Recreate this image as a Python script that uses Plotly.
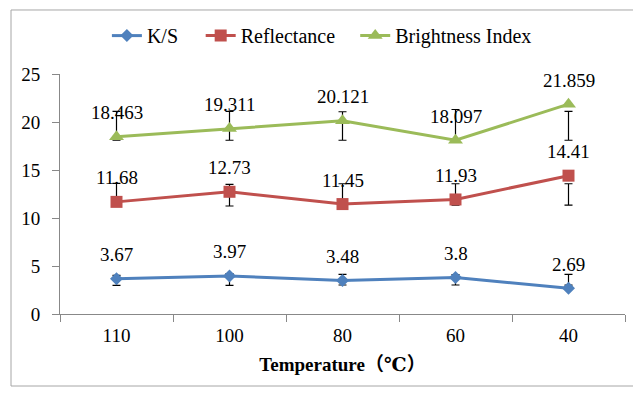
import plotly.graph_objects as go

categories = ["110", "100", "80", "60", "40"]
ks = [3.67, 3.97, 3.48, 3.8, 2.69]
reflectance = [11.68, 12.73, 11.45, 11.93, 14.41]
brightness = [18.463, 19.311, 20.121, 18.097, 21.859]

# error bar ends (low, high)
ks_low = [2.98, 2.98, 3.02, 3.02, 3.0]
ks_high = [4.03, 4.2, 4.13, 4.1, 4.13]
ref_low = [11.35, 11.25, 11.35, 11.35, 11.35]
ref_high = [13.6, 13.5, 13.57, 13.57, 13.57]
bri_low = [18.1, 18.1, 18.1, 18.0, 18.1]
bri_high = [21.1, 21.1, 21.07, 21.3, 21.1]

series = [
    ("K/S", ks, ks_low, ks_high, "#4F81BD", "diamond", 10, "legend", 0.083),
    ("Reflectance", reflectance, ref_low, ref_high, "#C0504D", "square", 12, "legend2", 0.249),
    ("Brightness Index", brightness, bri_low, bri_high, "#9BBB59", "triangle-up", 13, "legend3", 0.5225),
]

FONT = "'Times New Roman', 'Liberation Serif', 'DejaVu Serif', serif"

fig = go.Figure()

# error bars first (drawn beneath the lines/markers)
for name, vals, lo, hi, color, sym, size, lg, lx in series:
    mid = [(a + b) / 2 for a, b in zip(lo, hi)]
    half = [(b - a) / 2 for a, b in zip(lo, hi)]
    fig.add_trace(go.Scatter(
        x=categories, y=mid, mode="markers",
        marker=dict(size=1, opacity=0),
        error_y=dict(type="data", array=half, symmetric=True,
                     color="black", thickness=1.2, width=4),
        showlegend=False, hoverinfo="skip",
    ))

legends = {}
for name, vals, lo, hi, color, sym, size, lg, lx in series:
    fig.add_trace(go.Scatter(
        x=categories, y=vals, mode="lines+markers", name=name, legend=lg,
        line=dict(color=color, width=3),
        marker=dict(symbol=sym, size=size, color=color),
    ))
    legends[lg] = dict(orientation="h", x=lx, y=1.16, xanchor="left",
                       yanchor="middle", font=dict(family=FONT, size=20),
                       itemwidth=30, bgcolor="rgba(0,0,0,0)")
    for i, v in enumerate(vals):
        fig.add_annotation(
            x=i, y=v, text=str(v), showarrow=False, yshift=24,
            font=dict(family=FONT, size=19, color="black"),
        )

# outer border
fig.add_shape(type="rect", xref="paper", yref="paper",
              x0=-0.0867, x1=1.2, y0=-0.3, y1=1.2667,
              line=dict(color="#A6A6A6", width=1))

fig.update_layout(
    width=633, height=397,
    margin=dict(l=60, r=8, t=74, b=83, autoexpand=False),
    paper_bgcolor="white", plot_bgcolor="white",
    font=dict(family=FONT, size=19, color="black"),
    xaxis=dict(
        type="category", categoryorder="array", categoryarray=categories,
        range=[-0.5, 4.5],
        showline=True, linecolor="#888888", linewidth=1,
        ticks="outside", tickson="boundaries", ticklen=7, tickcolor="#888888",
        showgrid=False, zeroline=False, ticklabelstandoff=4, tickangle=0,
        tickfont=dict(family=FONT, size=19),
        title=dict(text="<b>Temperature（℃）</b>", standoff=12,
                   font=dict(family=FONT + ", 'Noto Sans CJK SC'", size=19)),
    ),
    yaxis=dict(
        range=[0, 25], tickvals=[0, 5, 10, 15, 20, 25],
        showline=True, linecolor="#888888", linewidth=1,
        ticks="outside", ticklen=7, tickcolor="#888888",
        showgrid=False, zeroline=False, ticklabelstandoff=8,
        tickfont=dict(family=FONT, size=19),
    ),
    **legends,
)

fig.write_html("out.html", config={"displayModeBar": False},
               post_script="document.body.style.margin='0';")
